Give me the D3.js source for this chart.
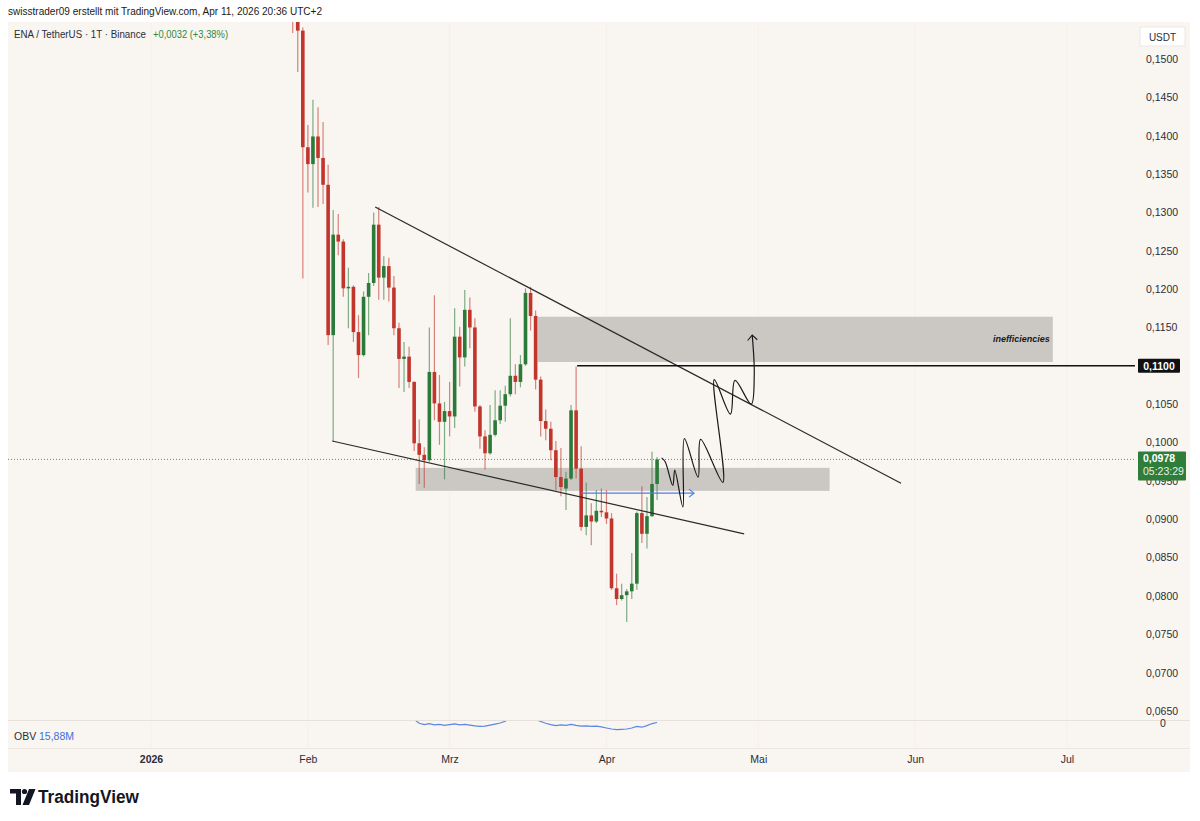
<!DOCTYPE html>
<html><head><meta charset="utf-8">
<script src="https://cdn.jsdelivr.net/npm/d3@7"></script>
<style>
body{margin:0;background:#fff;}
svg{display:block;font-family:"Liberation Sans",Arial,sans-serif;}
</style>
</head><body>
<svg id="c" width="1200" height="821"></svg>
<script>
// ---------- DATA ----------
const dates = ["2026-01-29","2026-01-30","2026-01-31",
"2026-02-01","2026-02-02","2026-02-03","2026-02-04","2026-02-05","2026-02-06","2026-02-07","2026-02-08","2026-02-09","2026-02-10",
"2026-02-11","2026-02-12","2026-02-13","2026-02-14","2026-02-15","2026-02-16","2026-02-17","2026-02-18","2026-02-19","2026-02-20",
"2026-02-21","2026-02-22","2026-02-23","2026-02-24","2026-02-25","2026-02-26","2026-02-27","2026-02-28",
"2026-03-01","2026-03-02","2026-03-03","2026-03-04","2026-03-05","2026-03-06","2026-03-07","2026-03-08","2026-03-09","2026-03-10",
"2026-03-11","2026-03-12","2026-03-13","2026-03-14","2026-03-15","2026-03-16","2026-03-17","2026-03-18","2026-03-19","2026-03-20",
"2026-03-21","2026-03-22","2026-03-23","2026-03-24","2026-03-25","2026-03-26","2026-03-27","2026-03-28","2026-03-29","2026-03-30","2026-03-31",
"2026-04-01","2026-04-02","2026-04-03","2026-04-04","2026-04-05","2026-04-06","2026-04-07","2026-04-08","2026-04-09","2026-04-10","2026-04-11"];

const open = [0.1590,0.1556,0.1537,
0.1385,0.1363,0.1399,0.1371,0.1336,0.1140,0.1271,0.1262,0.1201,0.1203,
0.1144,0.1114,0.1190,0.1208,0.1284,0.1215,0.1230,0.1202,0.1149,0.1109,
0.1112,0.1079,0.0999,0.0984,0.0977,0.1092,0.1051,0.1027,
0.1041,0.1034,0.1138,0.1111,0.1173,0.1150,0.1047,0.1008,0.0986,0.1010,
0.1029,0.1048,0.1063,0.1087,0.1079,0.1102,0.1195,0.1165,0.1082,0.1028,
0.1018,0.0990,0.0955,0.0940,0.0953,0.1042,0.0966,0.0890,0.0905,0.0897,0.0911,
0.0909,0.0901,0.0810,0.0796,0.0801,0.0806,0.0816,0.0908,0.0881,0.0904,0.0946];

const high = [0.1610,0.1575,0.1541,
0.1414,0.1447,0.1437,0.1418,0.1362,0.1303,0.1298,0.1265,0.1228,0.1205,
0.1166,0.1197,0.1221,0.1300,0.1307,0.1243,0.1241,0.1217,0.1156,0.1131,
0.1125,0.1080,0.1030,0.0994,0.1150,0.1192,0.1088,0.1053,
0.1079,0.1175,0.1151,0.1199,0.1189,0.1162,0.1049,0.1016,0.1049,0.1068,
0.1068,0.1074,0.1162,0.1102,0.1114,0.1201,0.1203,0.1172,0.1086,0.1043,
0.1027,0.1002,0.0993,0.0962,0.1049,0.1099,0.0995,0.0948,0.0921,0.0938,0.0940,
0.0938,0.0908,0.0829,0.0816,0.0809,0.0856,0.0910,0.0943,0.0929,0.0988,0.0981];

const low = [0.1534,0.1483,0.1214,
0.1326,0.1306,0.1307,0.1311,0.1127,0.1002,0.1244,0.1190,0.1149,0.1131,
0.1084,0.1112,0.1140,0.1204,0.1186,0.1186,0.1184,0.1140,0.1071,0.1066,
0.1071,0.0989,0.0946,0.0941,0.0975,0.1029,0.0997,0.0952,
0.1008,0.1019,0.1073,0.1099,0.1123,0.1040,0.0992,0.0965,0.0984,0.1008,
0.1024,0.1027,0.1060,0.1063,0.1072,0.1100,0.1146,0.1069,0.1008,0.1003,
0.0977,0.0938,0.0930,0.0912,0.0951,0.0953,0.0885,0.0879,0.0866,0.0895,0.0903,
0.0894,0.0808,0.0788,0.0794,0.0766,0.0796,0.0808,0.0869,0.0862,0.0903,0.0925];

const close = [0.1556,0.1537,0.1385,
0.1363,0.1399,0.1371,0.1336,0.1140,0.1271,0.1262,0.1201,0.1203,0.1144,
0.1114,0.1190,0.1208,0.1284,0.1215,0.1230,0.1202,0.1149,0.1109,0.1112,
0.1079,0.0999,0.0984,0.0977,0.1092,0.1051,0.1027,0.1041,
0.1034,0.1138,0.1111,0.1173,0.1150,0.1047,0.1008,0.0986,0.1010,0.1029,
0.1048,0.1063,0.1087,0.1079,0.1102,0.1195,0.1165,0.1082,0.1028,0.1018,
0.0990,0.0955,0.0942,0.0953,0.1042,0.0966,0.0890,0.0905,0.0897,0.0911,0.0909,
0.0901,0.0810,0.0796,0.0801,0.0806,0.0816,0.0908,0.0881,0.0904,0.0946,0.0978];

// OBV in millions
const obv = [18.6,18.4,17.9,17.7,17.9,17.7,17.5,17.0,17.3,17.2,17.0,17.1,16.9,16.7,16.9,17.0,17.2,16.9,17.0,16.8,16.6,16.4,16.5,16.3,16.0,
15.85,15.80,15.84,15.79,15.81,15.77,15.80,15.83,15.79,15.81,15.78,15.75,15.73,15.74,15.78,15.82,15.86,15.93,
16.05,16.0,16.1,16.25,16.15,16.0,
15.92,15.85,15.80,15.76,15.79,15.77,15.81,15.77,15.74,15.75,15.73,15.74,15.71,15.67,15.63,15.61,15.62,15.63,15.67,15.73,15.70,15.76,15.84,15.88];

const priceTicks = [0.150,0.145,0.140,0.135,0.130,0.125,0.120,0.115,0.105,0.100,0.095,0.090,0.085,0.080,0.075,0.070,0.065];
const monthTicks = ["2026-01-01","2026-02-01","2026-03-01","2026-04-01","2026-05-01","2026-06-01","2026-07-01"];
const monthLabels = ["2026","Feb","Mrz","Apr","Mai","Jun","Jul"];

// drawings: [days since 2026-01-01, price]
const upperTrend = [[44.3,0.1307],[148.2,0.0947]];
const lowerTrend = [[35.8,0.1002],[117.2,0.0881]];
const lowerZone = {d0:52.3, d1:134.1, p0:0.0937, p1:0.0967};
const upperZone = {d0:76.4, d1:178.2, p0:0.1105, p1:0.1164};
const levelLine = {d0:84.2, price:0.1100};
const blueArrow = [[85.0,0.0934],[107.3,0.0934]];
const sketch = [[100.9,0.0980],[101.6,0.0975],[103.1,0.0944],[103.5,0.0964],[105.1,0.0916],[105.4,0.1005],[108.1,0.0955],[108.6,0.1004],[113.0,0.0948],[111.3,0.1082],[114.5,0.1037],[115.4,0.1081],[118.6,0.1050],[119.2,0.1088],[118.8,0.1140]];
const sketchHead = [[117.9,0.1133],[118.8,0.1140],[119.8,0.1134]];
const lastPrice = 0.0978;
const countdown = "05:23:29";

// ---------- SETUP ----------
const svg = d3.select("#c");
const W = 1200, H = 821;
const plotL = 8, plotR = 1135, frameR = 1190, frameT = 22, frameB = 772;
const priceBottom = 720, obvTop = 721, obvBottom = 748;

const t0 = Date.UTC(2026,0,1);
const dayToDate = d => new Date(t0 + d*864e5);
const parse = d3.utcParse("%Y-%m-%d");

const x = d3.scaleUtc().domain([parse("2026-01-01"), parse("2026-07-01")]).range([151, 1067]);
const y = d3.scaleLinear().domain([0.065, 0.150]).range([711, 59]);
const yObv = d3.scaleLinear().domain([14.9, 15.9]).range([748, 722]);

const loc = d3.formatLocale({decimal:",", thousands:".", grouping:[3], currency:["","$"]});
const fmtP = loc.format(".4f");

const candles = dates.map((d,i)=>({date:parse(d), o:open[i], h:high[i], l:low[i], c:close[i], v:obv[i]}));

const UP = "#2b7a3a", DN = "#c2352c";
const BG = "#f9f5f0";

svg.append("rect").attr("width",W).attr("height",H).attr("fill","#fff");
svg.append("rect").attr("x",plotL).attr("y",frameT).attr("width",frameR-plotL).attr("height",frameB-frameT).attr("fill",BG);

// header
svg.append("text").attr("x",8).attr("y",15).attr("font-size",11.5).attr("fill","#1a1a1a")
  .attr("textLength",314).attr("lengthAdjust","spacingAndGlyphs")
  .text("swisstrader09 erstellt mit TradingView.com, Apr 11, 2026 20:36 UTC+2");

const defs = svg.append("defs");
defs.append("clipPath").attr("id","clipP").append("rect").attr("x",plotL).attr("y",frameT).attr("width",plotR-plotL).attr("height",priceBottom-frameT);
defs.append("clipPath").attr("id","clipO").append("rect").attr("x",plotL).attr("y",obvTop).attr("width",plotR-plotL).attr("height",obvBottom-obvTop);

// grid (very faint vertical month lines)
const grid = svg.append("g");
grid.selectAll("line").data(monthTicks).join("line")
  .attr("x1",d=>x(parse(d))).attr("x2",d=>x(parse(d))).attr("y1",frameT).attr("y2",obvBottom)
  .attr("stroke","#f5f0ea").attr("stroke-width",1);

// pane separator
svg.append("line").attr("x1",plotL).attr("x2",frameR).attr("y1",priceBottom+0.5).attr("y2",priceBottom+0.5).attr("stroke","#e6e1da");

const P = svg.append("g").attr("clip-path","url(#clipP)");

// zones
P.append("rect").attr("x",x(dayToDate(lowerZone.d0))).attr("width",x(dayToDate(lowerZone.d1))-x(dayToDate(lowerZone.d0)))
  .attr("y",y(lowerZone.p1)).attr("height",y(lowerZone.p0)-y(lowerZone.p1)).attr("fill","#cbc8c4");
P.append("rect").attr("x",x(dayToDate(upperZone.d0))).attr("width",x(dayToDate(upperZone.d1))-x(dayToDate(upperZone.d0)))
  .attr("y",y(upperZone.p1)).attr("height",y(upperZone.p0)-y(upperZone.p1)).attr("fill","#cbc8c4");
P.append("text").attr("x",x(dayToDate(upperZone.d1))-3).attr("y",(y(upperZone.p0)+y(upperZone.p1))/2+3)
  .attr("text-anchor","end").attr("font-size",9).attr("font-weight","bold").attr("font-style","italic").attr("fill","#1a1a1a")
  .text("inefficiencies");

// last price dotted line
P.append("line").attr("x1",plotL).attr("x2",plotR).attr("y1",y(lastPrice)).attr("y2",y(lastPrice))
  .attr("stroke","#7d7d7d").attr("stroke-dasharray","1,2").attr("stroke-width",1);

// candles
const bw = 3.6;
const cg = P.append("g");
cg.selectAll("line.w").data(candles).join("line").attr("class","w")
  .attr("x1",d=>x(d.date)).attr("x2",d=>x(d.date)).attr("y1",d=>y(d.h)).attr("y2",d=>y(d.l))
  .attr("stroke",d=>d.c>=d.o?UP:DN).attr("stroke-opacity",0.6).attr("stroke-width",1.2);
cg.selectAll("rect.b").data(candles).join("rect").attr("class","b")
  .attr("x",d=>x(d.date)-bw/2).attr("width",bw)
  .attr("y",d=>y(Math.max(d.o,d.c))).attr("height",d=>Math.max(1,Math.abs(y(d.o)-y(d.c))))
  .attr("fill",d=>d.c>=d.o?UP:DN);

// trendlines
const lineGen = d3.line().x(d=>x(dayToDate(d[0]))).y(d=>y(d[1]));
P.append("path").attr("d",lineGen(upperTrend)).attr("stroke","#2a2a2a").attr("stroke-width",1.2).attr("fill","none");
P.append("path").attr("d",lineGen(lowerTrend)).attr("stroke","#2a2a2a").attr("stroke-width",1.2).attr("fill","none");

// level line
P.append("line").attr("x1",x(dayToDate(levelLine.d0))).attr("x2",plotR).attr("y1",y(levelLine.price)).attr("y2",y(levelLine.price))
  .attr("stroke","#111").attr("stroke-width",1.5);

// blue arrow
P.append("path").attr("d",lineGen(blueArrow)).attr("stroke","#4f7fe8").attr("stroke-width",1.2).attr("fill","none");
const bx = x(dayToDate(blueArrow[1][0])), by = y(blueArrow[1][1]);
P.append("path").attr("d",`M${bx-5},${by-4}L${bx},${by}L${bx-5},${by+4}`).attr("stroke","#4f7fe8").attr("stroke-width",1.2).attr("fill","none");

// sketch
const sk = d3.line().x(d=>x(dayToDate(d[0]))).y(d=>y(d[1])).curve(d3.curveCatmullRom.alpha(0.5));
P.append("path").attr("d",sk(sketch)).attr("stroke","#1a1a1a").attr("stroke-width",1.2).attr("fill","none");
P.append("path").attr("d",lineGen(sketchHead)).attr("stroke","#1a1a1a").attr("stroke-width",1.1).attr("fill","none");

// OBV
const O = svg.append("g").attr("clip-path","url(#clipO)");
O.append("path").datum(candles).attr("d",d3.line().x(d=>x(d.date)).y(d=>yObv(d.v)))
  .attr("fill","none").attr("stroke","#5b86e5").attr("stroke-width",1.2);
svg.append("text").attr("x",14).attr("y",740).attr("font-size",10.5).attr("fill","#2a2e39").text("OBV");
svg.append("text").attr("x",39).attr("y",740).attr("font-size",10.5).attr("fill","#3d6fe0").text(loc.format(".2f")(15.88)+"M");

// price axis
const ya = svg.append("g").attr("transform",`translate(${plotR+8},0)`)
  .call(d3.axisRight(y).tickValues(priceTicks).tickSize(0).tickFormat(fmtP));
ya.select(".domain").remove();
ya.selectAll("text").attr("font-size",10.5).attr("fill","#2a2e39").attr("font-family","Liberation Sans, Arial, sans-serif").attr("dx",0);
svg.append("text").attr("x",1160).attr("y",727).attr("font-size",10.5).attr("fill","#2a2e39").text("0");

// USDT box
svg.append("rect").attr("x",1140).attr("y",27).attr("width",45).attr("height",19).attr("fill","#fff").attr("stroke","#ece8e2");
svg.append("text").attr("x",1162.5).attr("y",40.5).attr("text-anchor","middle").attr("font-size",10).attr("fill","#2a2e39").text("USDT");

// level label
const ly = y(levelLine.price);
svg.append("rect").attr("x",1138).attr("y",ly-7).attr("width",42).attr("height",14).attr("fill","#111").attr("rx",1);
svg.append("text").attr("x",1159).attr("y",ly+4).attr("text-anchor","middle").attr("font-size",10.5).attr("font-weight","bold").attr("fill","#fff").text(fmtP(levelLine.price));

// last price label
const lpy = y(lastPrice);
svg.append("rect").attr("x",1138).attr("y",lpy-8).attr("width",48).attr("height",29).attr("fill","#2e7d3b").attr("rx",1);
svg.append("text").attr("x",1143).attr("y",lpy+3).attr("font-size",10.5).attr("font-weight","bold").attr("fill","#fff").text(fmtP(lastPrice));
svg.append("text").attr("x",1143).attr("y",lpy+16).attr("font-size",10.5).attr("fill","#e6f2e6").text(countdown);

// time axis
svg.append("line").attr("x1",plotL).attr("x2",frameR).attr("y1",obvBottom+0.5).attr("y2",obvBottom+0.5).attr("stroke","#ebe6df");
const xa = svg.append("g").attr("transform",`translate(0,${obvBottom})`)
  .call(d3.axisBottom(x).tickValues(monthTicks.map(parse)).tickSize(0).tickPadding(8).tickFormat((d,i)=>monthLabels[i]));
xa.select(".domain").remove();
xa.selectAll("text").attr("font-size",10.5).attr("fill","#2a2e39").attr("font-family","Liberation Sans, Arial, sans-serif")
  .attr("font-weight",(d,i)=>i===0?"bold":"normal");

// legend
svg.append("text").attr("x",14).attr("y",38).attr("font-size",10.5).attr("fill","#2a2e39")
  .attr("textLength",132).attr("lengthAdjust","spacingAndGlyphs").text("ENA / TetherUS · 1T · Binance");
svg.append("text").attr("x",153).attr("y",38).attr("font-size",10.5).attr("fill","#2e8b3e")
  .attr("textLength",75).attr("lengthAdjust","spacingAndGlyphs").text("+0,0032 (+3,38%)");

// TradingView logo
const logo = svg.append("g").attr("fill","#131722");
logo.append("path").attr("d","M10,789 H21 V805 H16 V793.5 H10 Z");
logo.append("circle").attr("cx",24.5).attr("cy",791.5).attr("r",2.6);
logo.append("path").attr("d","M29,789 H35.5 L29,805 H22.5 Z");
svg.append("text").attr("x",38).attr("y",803).attr("font-size",17.5).attr("font-weight","bold").attr("fill","#131722")
  .attr("textLength",101).attr("lengthAdjust","spacingAndGlyphs").text("TradingView");
</script>
</body></html>
